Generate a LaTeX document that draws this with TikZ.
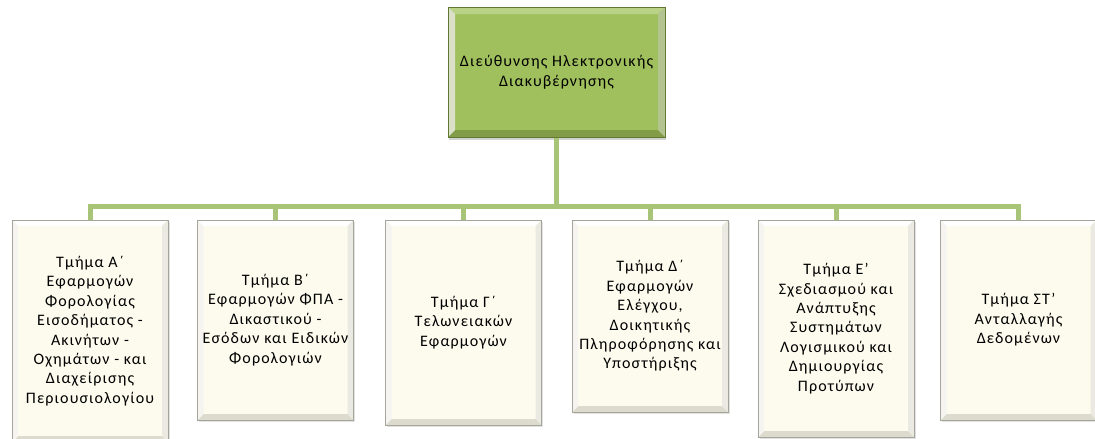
\documentclass[tikz,border=0pt]{standalone}
\usepackage{fontspec}
\setmainfont{Carlito}[LetterSpace=7]
\usetikzlibrary{shadows}
\definecolor{leaf}{RGB}{160,192,94}
\definecolor{leaflight}{RGB}{186,210,134}
\definecolor{leafshade}{RGB}{130,156,72}
\definecolor{leafdark}{RGB}{96,120,50}
\definecolor{branch}{RGB}{168,196,118}
\definecolor{cream}{RGB}{252,251,238}
\definecolor{creamshade}{RGB}{220,219,206}
\definecolor{edgegray}{RGB}{165,165,155}

\newcommand{\bevel}[3]{% width, top colour, bottom/side colour
  \fill[#2] (path picture bounding box.north west) -- (path picture bounding box.north east)
    -- ([shift={(-#1,#1)}]path picture bounding box.north east) -- ([shift={(#1,#1)}]path picture bounding box.north west) -- cycle;
  \fill[#3] (path picture bounding box.south west) -- (path picture bounding box.south east)
    -- ([shift={(-#1,-#1)}]path picture bounding box.south east) -- ([shift={(#1,-#1)}]path picture bounding box.south west) -- cycle;
  \fill[#3!60!white] (path picture bounding box.north east) -- (path picture bounding box.south east)
    -- ([shift={(-#1,-#1)}]path picture bounding box.south east) -- ([shift={(-#1,#1)}]path picture bounding box.north east) -- cycle;
  \fill[#3!30!white] (path picture bounding box.north west) -- (path picture bounding box.south west)
    -- ([shift={(#1,-#1)}]path picture bounding box.south west) -- ([shift={(#1,#1)}]path picture bounding box.north west) -- cycle;}

\begin{document}
\begin{tikzpicture}[x=1pt,y=-1pt]
\tikzstyle{every node}+=[inner sep=0pt]
\tikzstyle{head}=[draw=leafdark, line width=1pt, fill=leaf, minimum width=217, minimum height=130, align=center, font=\fontsize{16}{20}\selectfont, path picture={\bevel{7}{leaflight}{leafshade}}, drop shadow={shadow xshift=1pt, shadow yshift=-3pt, fill=gray!70}]
\tikzstyle{dept}=[draw=edgegray, line width=0.8pt, fill=cream, minimum width=156, align=center, font=\fontsize{16}{19.4}\selectfont, path picture={\bevel{6}{white}{creamshade}}, drop shadow={shadow xshift=1.5pt, shadow yshift=-2pt, fill=gray!45}]
\tikzstyle{link}=[draw=branch, line width=5pt]
\useasboundingbox (0,0) rectangle (1095,439);
% top box
\node [head] (dir) at (556.5,72) {Διεύθυνσης Ηλεκτρονικής\\Διακυβέρνησης};
% departments
\node [dept, minimum height=222] (ta) at (90,331) {Τμήμα Α΄\\Εφαρμογών\\Φορολογίας\\Εισοδήματος -\\Ακινήτων -\\Οχημάτων - και\\Διαχείρισης\\Περιουσιολογίου};
\node [dept, minimum height=200] (tb) at (275.5,320) {Τμήμα Β΄\\Εφαρμογών ΦΠΑ -\\Δικαστικού -\\Εσόδων και Ειδικών\\Φορολογιών};
\node [dept, minimum height=205] (tg) at (463.5,322.5) {Τμήμα Γ΄\\Τελωνειακών\\Εφαρμογών};
\node [dept, minimum height=192] (td) at (650,316) {Τμήμα Δ΄\\Εφαρμογών\\Ελέγχου,\\Δοικητικής\\Πληροφόρησης και\\Υποστήριξης};
\node [dept, minimum height=217] (te) at (836,328.5) {Τμήμα Ε'\\Σχεδιασμού και\\Ανάπτυξης\\Συστημάτων\\Λογισμικού και\\Δημιουργίας\\Προτύπων};
\node [dept, minimum height=200] (tst) at (1018.5,320) {Τμήμα ΣΤ'\\Ανταλλαγής\\Δεδομένων};
% connectors
\foreach \t in {ta,tb,tg,td,te,tst}
  \draw [link] (dir.south) -- ++(0,69) -| (\t.north);
\end{tikzpicture}
\end{document}
